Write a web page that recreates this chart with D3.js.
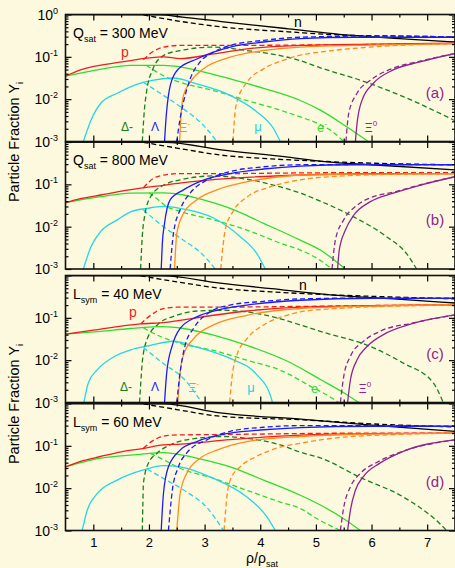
<!DOCTYPE html>
<html>
<head>
<meta charset="utf-8">
<script src="https://cdn.jsdelivr.net/npm/d3@7"></script>
<style>
  body { margin: 0; background: #fdf9df; }
  svg { display: block; font-family: "Liberation Sans", Arial, sans-serif; }
</style>
</head>
<body>
<svg id="chart" width="455" height="568"></svg>
<script>

// ---- data: [rho/rho_sat, Y_i], one list per panel (a, b, c, d) ----

var nSolid = [
  [[0.5,1.0],[2.2,0.98],[2.6,0.87],[3.3,0.68],[4.5,0.46],[5.67,0.32],[6.5,0.27],[7.5,0.224]],
  [[0.5,1.0],[2.3,0.98],[3.3,0.65],[4.5,0.44],[5.1,0.35],[6.0,0.29],[7.5,0.22]],
  [[0.5,1.0],[2.26,0.98],[3.28,0.66],[4.2,0.49],[5.26,0.35],[6.4,0.28],[7.5,0.224]],
  [[0.5,1.0],[2.26,0.98],[3.28,0.60],[4.78,0.42],[6.0,0.31],[7.5,0.22]]
];
var nDashed = [
  [[1.9,0.98],[2.5,0.71],[3.3,0.51],[4.5,0.39],[5.67,0.32],[6.5,0.31],[7.5,0.295]],
  [[1.9,0.98],[2.5,0.72],[3.3,0.49],[4.2,0.40],[5.1,0.35],[6.0,0.316],[7.5,0.29]],
  [[1.85,0.98],[2.5,0.71],[3.28,0.50],[4.2,0.41],[5.26,0.35],[6.4,0.31],[7.5,0.28]],
  [[1.9,0.98],[2.5,0.72],[3.28,0.50],[4.78,0.41],[6.0,0.33],[7.5,0.28]]
];
var pSolid = [
  [[0.5,0.035],[0.77,0.049],[1.52,0.076],[2.26,0.10],[2.56,0.091],[3.16,0.117],[3.76,0.155],[4.72,0.186],[6.0,0.20],[7.5,0.21]],
  [[0.5,0.037],[0.77,0.046],[1.13,0.056],[1.85,0.081],[2.26,0.095],[2.62,0.11],[3.46,0.138],[4.72,0.166],[6.0,0.178],[7.5,0.18]],
  [[0.5,0.041],[1.0,0.051],[1.5,0.064],[1.85,0.072],[2.3,0.078],[2.56,0.087],[3.16,0.115],[3.76,0.145],[4.72,0.18],[6.0,0.195],[7.5,0.204]],
  [[0.5,0.032],[0.77,0.043],[1.13,0.056],[1.5,0.072],[1.85,0.085],[2.26,0.105],[2.56,0.11],[3.46,0.14],[4.72,0.18],[6.0,0.195],[7.5,0.20]]
];
var pDashed = [
  [[1.9,0.086],[2.1,0.14],[2.26,0.17],[2.56,0.186],[3.46,0.186],[4.72,0.19],[6.0,0.196],[7.5,0.205]],
  [[1.9,0.083],[2.14,0.151],[2.56,0.18],[3.46,0.18],[4.72,0.186],[6.0,0.19],[7.5,0.19]],
  [[1.85,0.072],[2.05,0.12],[2.26,0.166],[2.56,0.18],[3.46,0.18],[4.72,0.186],[6.0,0.195],[7.5,0.20]],
  [[1.9,0.088],[2.15,0.151],[2.44,0.18],[3.46,0.186],[4.72,0.195],[6.0,0.20],[7.5,0.20]]
];
var eSolid = [
  [[0.5,0.035],[1.0,0.047],[1.67,0.063],[2.26,0.063],[2.56,0.058],[2.86,0.048],[3.46,0.030],[4.06,0.018],[4.72,0.0093],[5.08,0.0055],[5.56,0.0022],[5.94,0.001]],
  [[0.5,0.037],[1.13,0.051],[1.67,0.062],[2.26,0.063],[2.62,0.056],[2.86,0.047],[3.46,0.027],[4.06,0.012],[4.72,0.0048],[5.08,0.0028],[5.53,0.001]],
  [[0.5,0.041],[1.13,0.048],[1.67,0.056],[2.26,0.062],[2.62,0.056],[3.16,0.039],[3.76,0.0224],[4.5,0.0093],[5.08,0.0035],[5.5,0.0017],[5.77,0.001]],
  [[0.5,0.032],[1.13,0.051],[1.85,0.063],[2.26,0.069],[2.56,0.062],[2.86,0.051],[3.46,0.032],[4.06,0.0155],[4.72,0.0068],[5.08,0.004],[5.5,0.0019],[5.8,0.001]]
];
var eDashed = [
  [[1.95,0.063],[2.26,0.036],[2.56,0.025],[3.16,0.016],[3.76,0.0093],[4.36,0.0055],[4.72,0.0038],[5.08,0.0025],[5.3,0.0017],[5.5,0.001]],
  [[2.0,0.063],[2.15,0.045],[2.3,0.031],[2.56,0.023],[3.16,0.0145],[3.76,0.0083],[4.36,0.0041],[4.72,0.0028],[5.08,0.0016],[5.29,0.001]],
  [[1.9,0.058],[2.15,0.039],[2.56,0.025],[3.16,0.017],[3.76,0.010],[4.36,0.0058],[4.96,0.0022],[5.2,0.0015],[5.41,0.001]],
  [[2.03,0.066],[2.26,0.047],[2.56,0.0295],[3.16,0.017],[3.76,0.0089],[4.36,0.0047],[4.72,0.0033],[5.02,0.0019],[5.44,0.001]]
];
var muSolid = [
  [[0.82,0.001],[0.9,0.002],[0.96,0.0032],[1.13,0.0079],[1.43,0.0138],[1.85,0.024],[2.03,0.0275],[2.44,0.0316],[2.86,0.023],[3.46,0.0123],[3.94,0.005],[4.24,0.002],[4.36,0.001]],
  [[0.82,0.001],[0.96,0.0034],[1.13,0.0076],[1.43,0.0145],[1.67,0.0224],[1.97,0.027],[2.26,0.030],[2.56,0.027],[3.16,0.016],[3.64,0.0058],[3.94,0.0023],[4.09,0.001]],
  [[0.83,0.001],[0.91,0.0029],[1.07,0.0059],[1.37,0.012],[1.67,0.0174],[2.03,0.0224],[2.44,0.028],[2.86,0.0204],[3.46,0.011],[3.94,0.0045],[4.18,0.0015],[4.22,0.001]],
  [[0.8,0.001],[0.89,0.003],[1.07,0.0074],[1.43,0.0155],[1.9,0.027],[2.26,0.034],[2.56,0.032],[3.16,0.017],[3.76,0.0062],[4.12,0.0021],[4.27,0.001]]
];
var muDashed = [
  [[1.9,0.025],[2.26,0.0123],[2.62,0.0059],[2.98,0.0024],[3.22,0.001]],
  [[1.9,0.025],[2.26,0.010],[2.62,0.0048],[2.98,0.0021],[3.19,0.001]],
  [[1.9,0.020],[2.26,0.0083],[2.62,0.0037],[2.95,0.001]],
  [[1.97,0.028],[2.26,0.017],[2.68,0.0081],[3.04,0.0035],[3.34,0.001]]
];
var deltaDashed = [
  [[1.88,0.001],[1.92,0.006],[1.96,0.016],[2.06,0.048],[2.26,0.107],[2.56,0.141],[3.16,0.17],[3.76,0.141],[4.36,0.107],[4.72,0.081],[5.08,0.055],[5.8,0.028],[6.57,0.0115],[7.5,0.0031]],
  [[1.85,0.001],[1.88,0.006],[1.92,0.017],[2.03,0.051],[2.26,0.095],[2.62,0.132],[3.16,0.158],[3.76,0.132],[4.36,0.087],[4.72,0.062],[5.08,0.040],[5.68,0.017],[6.27,0.0058],[6.63,0.0023],[6.81,0.001]],
  [[1.83,0.001],[1.86,0.004],[1.88,0.0091],[1.97,0.032],[2.15,0.068],[2.5,0.115],[2.86,0.145],[3.34,0.151],[3.76,0.138],[4.36,0.095],[4.72,0.068],[5.08,0.048],[5.98,0.021],[6.57,0.0085],[7.11,0.0029],[7.29,0.001]],
  [[1.88,0.001],[1.89,0.004],[1.9,0.0129],[1.99,0.039],[2.15,0.068],[2.38,0.105],[2.86,0.151],[3.34,0.166],[3.76,0.151],[4.36,0.105],[4.72,0.071],[5.08,0.052],[5.8,0.0178],[6.57,0.0062],[7.17,0.0017],[7.35,0.001]]
];
var lamSolid = [
  [[2.28,0.001],[2.31,0.004],[2.35,0.0123],[2.39,0.023],[2.53,0.052],[2.86,0.089],[3.16,0.129],[3.46,0.17],[4.06,0.224],[4.72,0.27],[5.7,0.29],[7.5,0.29]],
  [[2.22,0.001],[2.24,0.004],[2.28,0.012],[2.38,0.043],[2.62,0.074],[2.98,0.126],[3.46,0.18],[4.06,0.23],[4.72,0.27],[5.68,0.29],[7.5,0.29]],
  [[2.28,0.001],[2.32,0.0052],[2.42,0.0224],[2.56,0.056],[2.86,0.105],[3.22,0.151],[3.76,0.20],[4.72,0.26],[6.0,0.29],[7.5,0.29]],
  [[2.22,0.001],[2.26,0.0074],[2.35,0.032],[2.56,0.079],[2.86,0.126],[3.46,0.20],[4.06,0.24],[4.72,0.27],[6.0,0.29],[7.5,0.29]]
];
var lamDashed = [
  [[2.5,0.001],[2.56,0.0035],[2.62,0.0085],[2.74,0.030],[2.92,0.076],[3.16,0.129],[3.46,0.186],[4.06,0.245],[4.72,0.29],[6.0,0.31],[7.5,0.295]],
  [[2.38,0.001],[2.44,0.0069],[2.56,0.025],[2.74,0.062],[3.04,0.126],[3.46,0.20],[4.06,0.26],[4.72,0.29],[6.0,0.295],[7.5,0.29]],
  [[2.5,0.001],[2.56,0.0052],[2.65,0.0224],[2.8,0.056],[3.1,0.138],[3.46,0.20],[4.06,0.245],[4.72,0.28],[6.0,0.295],[7.5,0.29]],
  [[2.35,0.001],[2.42,0.0089],[2.53,0.032],[2.68,0.068],[3.04,0.138],[3.46,0.22],[4.06,0.275],[4.72,0.30],[6.0,0.30],[7.5,0.29]]
];
var xiMSolid = [
  [[2.55,0.001],[2.58,0.005],[2.62,0.0123],[2.74,0.025],[2.98,0.052],[3.46,0.098],[4.06,0.141],[4.72,0.17],[6.0,0.19],[7.5,0.205]],
  [[2.46,0.001],[2.5,0.0069],[2.62,0.0204],[2.86,0.043],[3.22,0.074],[3.76,0.115],[4.36,0.151],[4.72,0.166],[6.0,0.175],[7.5,0.178]],
  [[2.52,0.001],[2.56,0.005],[2.62,0.0132],[2.8,0.032],[3.16,0.068],[3.76,0.115],[4.72,0.166],[6.0,0.19],[7.5,0.204]],
  [[2.5,0.001],[2.56,0.0074],[2.68,0.0224],[2.92,0.051],[3.22,0.079],[3.76,0.126],[4.72,0.166],[6.0,0.19],[7.5,0.20]]
];
var xiMDashed = [
  [[3.51,0.001],[3.54,0.004],[3.58,0.0085],[3.76,0.025],[4.06,0.052],[4.48,0.089],[4.72,0.11],[5.08,0.13],[5.98,0.17],[7.5,0.205]],
  [[3.29,0.001],[3.33,0.0035],[3.37,0.0083],[3.52,0.024],[3.76,0.05],[4.18,0.087],[4.75,0.13],[5.5,0.158],[6.5,0.174],[7.5,0.18]],
  [[3.45,0.001],[3.49,0.0037],[3.58,0.0132],[3.76,0.032],[4.06,0.068],[4.48,0.115],[4.72,0.138],[5.5,0.17],[6.5,0.19],[7.5,0.20]],
  [[3.35,0.001],[3.4,0.0062],[3.46,0.0155],[3.64,0.032],[3.92,0.055],[4.36,0.093],[4.72,0.115],[5.38,0.155],[6.5,0.186],[7.5,0.20]]
];
var xi0Solid = [
  [[5.71,0.001],[5.74,0.0027],[5.83,0.0095],[6.03,0.0234],[6.39,0.049],[6.87,0.076],[7.5,0.12]],
  [[5.39,0.001],[5.42,0.0028],[5.53,0.0083],[5.68,0.0186],[5.98,0.039],[6.39,0.062],[6.87,0.095],[7.5,0.151]],
  [[5.57,0.001],[5.62,0.0034],[5.74,0.0102],[5.92,0.021],[6.27,0.044],[6.75,0.074],[7.5,0.117]],
  [[5.57,0.001],[5.62,0.003],[5.71,0.0089],[5.85,0.0186],[6.15,0.039],[6.57,0.074],[7.5,0.138]]
];
var xi0Dashed = [
  [[5.54,0.001],[5.59,0.0046],[5.74,0.0138],[5.98,0.028],[6.39,0.054],[6.87,0.079],[7.5,0.12]],
  [[5.29,0.001],[5.35,0.0048],[5.5,0.0145],[5.74,0.032],[6.03,0.051],[6.39,0.065],[6.87,0.097],[7.5,0.151]],
  [[5.44,0.001],[5.5,0.0041],[5.62,0.0123],[5.85,0.0275],[6.15,0.048],[6.75,0.076],[7.5,0.117]],
  [[5.44,0.001],[5.5,0.0035],[5.62,0.0107],[5.8,0.0224],[6.1,0.041],[6.57,0.075],[7.5,0.138]]
];

// ---- axis ticks and texts ----
var xTicks = [1, 2, 3, 4, 5, 6, 7];
var xMinor = [1.5, 2.5, 3.5, 4.5, 5.5, 6.5];
var yTicks = [1, 0.1, 0.01, 0.001];
var yExpLabels = ["0", "-1", "-2", "-3"];
var panelTitles = [["Q", "sat", " = 300 MeV"], ["Q", "sat", " = 800 MeV"], ["L", "sym", " = 40 MeV"], ["L", "sym", " = 60 MeV"]];
var panelTags = ["(a)", "(b)", "(c)", "(d)"];
var particleNames = [["n", ""], ["p", ""], ["\u0394-", ""], ["\u039b", ""], ["\u039e", "-"], ["\u03bc", ""], ["e", "-"], ["\u039e", "0"]];

var colors = {
  n: "#000000", p: "#f21c1c", e: "#2edc2e", mu: "#22d6e6",
  delta: "#17801a", lam: "#1a1aff", xiM: "#ff8a1e", xi0: "#8e258e"
};

var layers = [
  {data: nDashed, color: colors.n, dash: true},
  {data: nSolid, color: colors.n, dash: false},
  {data: eDashed, color: colors.e, dash: true},
  {data: eSolid, color: colors.e, dash: false},
  {data: muDashed, color: colors.mu, dash: true},
  {data: muSolid, color: colors.mu, dash: false},
  {data: deltaDashed, color: colors.delta, dash: true},
  {data: pSolid, color: colors.p, dash: false},
  {data: pDashed, color: colors.p, dash: true},
  {data: xiMSolid, color: colors.xiM, dash: false},
  {data: xiMDashed, color: colors.xiM, dash: true},
  {data: lamSolid, color: colors.lam, dash: false},
  {data: lamDashed, color: colors.lam, dash: true},
  {data: xi0Solid, color: colors.xi0, dash: false},
  {data: xi0Dashed, color: colors.xi0, dash: true}
];

// label placement (panels a and c only)
var nameColors = [colors.n, colors.p, colors.delta, colors.lam, colors.xiM, colors.mu, colors.e, colors.xi0];
var nameSizes = [14, 14, 12, 12, 12, 13, 13, 12];
var nameSpots = {
  0: [[298, 27], [125, 57], [127, 131], [155, 131], [185, 132], [258, 131], [322, 132], [371, 132]],
  2: [[303, 290], [133, 317], [126, 391], [155, 391], [194, 392], [251, 392], [316, 393], [365, 393]]
};

var left = 65.5, right = 455;
var panelTop = [14.5, 142, 275.5, 403.5];
var panelH = 127;

var svg = d3.select("#chart");
svg.append("rect").attr("width", 455).attr("height", 568).attr("fill", "#fdf9df");

var x = d3.scaleLinear().domain([0.5, 7.5]).range([left, right]);

panelTop.forEach(function(top, i) {

  var y = d3.scaleLog().domain([0.001, 1]).range([top + panelH, top]);
  var g = svg.append("g");

  g.append("clipPath").attr("id", "clip" + i)
    .append("rect")
    .attr("x", left).attr("y", top)
    .attr("width", right - left).attr("height", panelH);

  var line = d3.line()
    .x(function(d) { return x(d[0]); })
    .y(function(d) { return y(d[1]); })
    .curve(d3.curveMonotoneX);

  var plot = g.append("g").attr("clip-path", "url(#clip" + i + ")");

  layers.forEach(function(l) {
    plot.append("path")
      .attr("d", line(l.data[i]))
      .attr("fill", "none")
      .attr("stroke", l.color)
      .attr("stroke-width", 1.3)
      .attr("stroke-dasharray", l.dash ? "5,3" : null);
  });

  // inward ticks on all four sides
  var yMinor = [];
  [0.001, 0.01, 0.1].forEach(function(dec) {
    for (var k = 2; k <= 9; k++) yMinor.push(dec * k);
  });

  var axes = [
    [d3.axisBottom(x).tickValues(xTicks).tickSize(-6), "translate(0," + (top + panelH) + ")"],
    [d3.axisBottom(x).tickValues(xMinor).tickSize(-3), "translate(0," + (top + panelH) + ")"],
    [d3.axisTop(x).tickValues(xTicks).tickSize(-6), "translate(0," + top + ")"],
    [d3.axisTop(x).tickValues(xMinor).tickSize(-3), "translate(0," + top + ")"],
    [d3.axisLeft(y).tickValues(yTicks).tickSize(-6), "translate(" + left + ",0)"],
    [d3.axisLeft(y).tickValues(yMinor).tickSize(-3), "translate(" + left + ",0)"],
    [d3.axisRight(y).tickValues(yTicks).tickSize(-6), "translate(" + right + ",0)"],
    [d3.axisRight(y).tickValues(yMinor).tickSize(-3), "translate(" + right + ",0)"]
  ];
  axes.forEach(function(a) {
    var ag = g.append("g").attr("transform", a[1]).call(a[0].tickFormat(""));
    ag.select(".domain").remove();
    ag.selectAll(".tick line").attr("stroke", "#000").attr("stroke-width", 1.2);
  });

  // frame
  g.append("rect")
    .attr("x", left).attr("y", top)
    .attr("width", right - left).attr("height", panelH)
    .attr("fill", "none").attr("stroke", "#111").attr("stroke-width", 1.6);

  // y tick labels: only the first panel carries 10^0, the others share
  // their top edge with the label of the panel above
  yTicks.forEach(function(v, k) {
    if (k === 0 && i !== 0) return;
    var t = g.append("text")
      .attr("x", 58).attr("y", y(v) + 5)
      .attr("text-anchor", "end")
      .attr("font-size", 14);
    t.append("tspan").text("10");
    t.append("tspan").attr("dy", -6).attr("font-size", 9).text(yExpLabels[k]);
  });

  // panel title
  var ti = g.append("text").attr("x", 73).attr("y", top + 23).attr("font-size", 14);
  ti.append("tspan").text(panelTitles[i][0]);
  ti.append("tspan").attr("dy", 4).attr("font-size", 9).text(panelTitles[i][1]);
  ti.append("tspan").attr("dy", -4).text(panelTitles[i][2]);

  g.append("text")
    .attr("x", 435).attr("y", top + 83)
    .attr("text-anchor", "middle")
    .attr("font-size", 15)
    .attr("fill", colors.xi0)
    .text(panelTags[i]);

  if (nameSpots[i]) {
    nameSpots[i].forEach(function(pos, k) {
      var t = g.append("text")
        .attr("x", pos[0]).attr("y", pos[1])
        .attr("text-anchor", "middle")
        .attr("font-size", nameSizes[k])
        .attr("fill", nameColors[k]);
      t.append("tspan").text(particleNames[k][0]);
      if (particleNames[k][1]) {
        t.append("tspan").attr("dy", -6).attr("font-size", 8).text(particleNames[k][1]);
      }
    });
  }
});

// x tick labels under the last panel
var xg = svg.append("g")
  .attr("transform", "translate(0," + (panelTop[3] + panelH) + ")")
  .call(d3.axisBottom(x).tickValues(xTicks).tickSize(0).tickPadding(7.5).tickFormat(d3.format("d")));
xg.select(".domain").remove();
xg.selectAll("text").attr("font-size", 13).attr("font-family", "Liberation Sans, Arial, sans-serif").attr("fill", "#000");

var xl = svg.append("text").attr("x", 262).attr("y", 563).attr("text-anchor", "middle").attr("font-size", 14);
xl.append("tspan").text("\u03c1/\u03c1");
xl.append("tspan").attr("dy", 4).attr("font-size", 9).text("sat");

[142, 404].forEach(function(cy) {
  var yl = svg.append("text")
    .attr("transform", "translate(18.5," + cy + ") rotate(-90)")
    .attr("text-anchor", "middle")
    .attr("font-size", 14.5);
  yl.append("tspan").text("Particle Fraction Y");
  yl.append("tspan").attr("dy", 4).attr("font-size", 9).text("i");
});

</script>
</body>
</html>
